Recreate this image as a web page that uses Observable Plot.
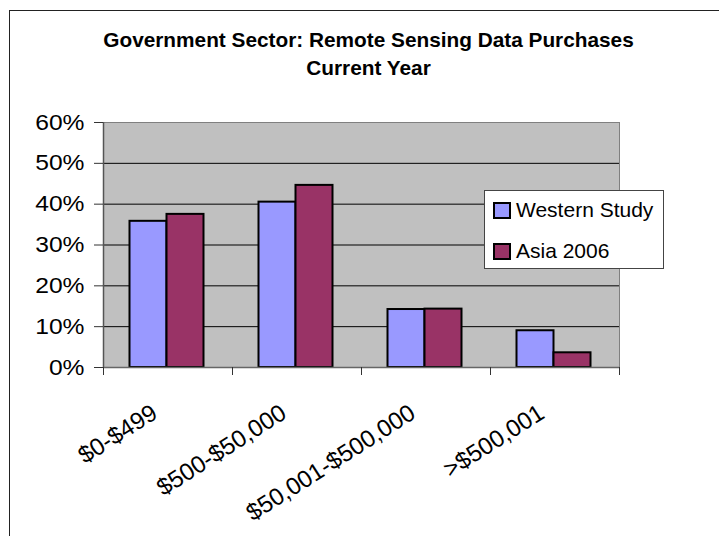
<!DOCTYPE html>
<html>
<head>
<meta charset="utf-8">
<script src="https://cdn.jsdelivr.net/npm/d3@7"></script>
<script src="https://cdn.jsdelivr.net/npm/@observablehq/plot@0.6"></script>
<style>
  html, body { margin: 0; padding: 0; background: #fff; overflow: hidden; }
  #wrap { position: relative; width: 719px; height: 536px; overflow: hidden; }
  #outer { position: absolute; left: 9px; top: 10px; width: 900px; height: 700px; border: 1px solid #222; box-sizing: border-box; pointer-events: none; }
  #legend { position: absolute; left: 484px; top: 190px; width: 180px; height: 79px; box-sizing: border-box; background: #fff; border: 1px solid #444; font-family: "Liberation Sans", Arial, sans-serif; font-size: 21px; color: #000; }
  .row { position: absolute; left: 8px; height: 24px; display: flex; align-items: center; }
  .sw { width: 18px; height: 17px; box-sizing: border-box; border: 2px solid #000; margin-right: 5px; }
</style>
</head>
<body>
<div id="wrap">
  <div id="chart"></div>
  <div id="outer"></div>
  <div id="legend"></div>
</div>
<script>
const categories = ["$0-$499", "$500-$50,000", "$50,001-$500,000", ">$500,001"];
const westernStudy = [35.8, 40.5, 14.2, 9.0];
const asia2006 = [37.5, 44.6, 14.3, 3.6];
const seriesNames = ["Western Study", "Asia 2006"];
const seriesColors = ["#9999FF", "#993366"];
const yTicks = [0, 10, 20, 30, 40, 50, 60];
const gridTicks = [10, 20, 30, 40, 50];
const xBoundaries = [0, 1, 2, 3, 4];
const titleLine1 = ["Government Sector: Remote Sensing Data Purchases"];
const titleLine2 = ["Current Year"];

const westernData = categories.map((c, i) => ({cat: c, i, value: westernStudy[i]}));
const asiaData = categories.map((c, i) => ({cat: c, i, value: asia2006[i]}));
const labelData = categories.map((c, i) => ({cat: c, i}));

const chart = Plot.plot({
  width: 719,
  height: 536,
  marginLeft: 103,
  marginRight: 100,
  marginTop: 122,
  marginBottom: 169,
  style: {fontFamily: "'Liberation Sans', Arial, sans-serif", background: "transparent", color: "#000"},
  x: {type: "linear", domain: [0, 4], axis: null},
  y: {domain: [0, 60], axis: null},
  marks: [
    Plot.frame({fill: "#C0C0C0", stroke: "#808080"}),
    Plot.ruleY(gridTicks, {stroke: "#000", strokeWidth: 1}),
    Plot.rectY(westernData, {x1: "i", x2: d => d.i + 1, y: "value", insetLeft: 26.5, insetRight: 65.5, fill: seriesColors[0], stroke: "#000", strokeWidth: 2}),
    Plot.rectY(asiaData, {x1: "i", x2: d => d.i + 1, y: "value", insetLeft: 63.5, insetRight: 28.5, fill: seriesColors[1], stroke: "#000", strokeWidth: 2}),
    Plot.ruleX([0], {stroke: "#555", strokeWidth: 1.5}),
    Plot.ruleY([0], {stroke: "#666", strokeWidth: 1.5}),
    Plot.axisY({ticks: yTicks, tickFormat: d => d + "%", tickSize: 9, tickPadding: 10, fontSize: 22, stroke: "#333", fill: "#000", label: null}),
    Plot.axisX({ticks: xBoundaries, tickFormat: () => "", tickSize: 8, stroke: "#333", label: null}),
    Plot.text(labelData, {x: d => d.i + 0.5, y: 0, text: "cat", rotate: -32.5, textAnchor: "end", lineAnchor: "middle", dx: -13, dy: 43, fontSize: 24, fill: "#000"}),
    Plot.text(titleLine1, {frameAnchor: "top", text: d => d, dx: 7, dy: -75.3, lineAnchor: "bottom", fontSize: 20.8, fontWeight: "bold", fill: "#000"}),
    Plot.text(titleLine2, {frameAnchor: "top", text: d => d, dx: 7, dy: -47.7, lineAnchor: "bottom", fontSize: 20.8, fontWeight: "bold", fill: "#000"})
  ]
});
document.getElementById("chart").appendChild(chart);

// widen the y tick labels horizontally about their right edge
d3.select(chart).selectAll("text").each(function () {
  const s = (this.textContent || "").trim();
  if (!/^\d+%$/.test(s)) return;
  const b = this.getBBox();
  const r = b.x + b.width;
  const t = this.getAttribute("transform") || "";
  this.setAttribute("transform", `${t} translate(${r},0) scale(1.12,1) translate(${-r},0)`);
});

const legend = document.getElementById("legend");
seriesNames.forEach((name, k) => {
  const row = document.createElement("div");
  row.className = "row";
  row.style.top = (7 + k * 41) + "px";
  const sw = document.createElement("div");
  sw.className = "sw";
  sw.style.background = seriesColors[k];
  const tx = document.createElement("span");
  tx.textContent = name;
  row.appendChild(sw);
  row.appendChild(tx);
  legend.appendChild(row);
});
</script>
</body>
</html>
